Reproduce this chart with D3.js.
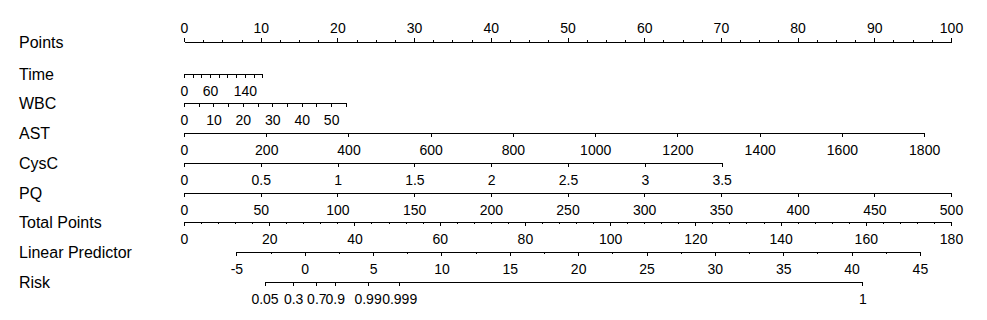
<!DOCTYPE html>
<html>
<head>
<meta charset="utf-8">
<script src="https://cdn.jsdelivr.net/npm/d3@7/dist/d3.min.js"></script>
<style>
body { margin: 0; background: #fff; }
svg { display: block; font-family: "Liberation Sans", Arial, sans-serif; }
.axis path, .axis line { stroke: #000; stroke-width: 1px; shape-rendering: crispEdges; }
.axis text { font-size: 14px; fill: #000; font-family: "Liberation Sans", Arial, sans-serif; }
.name { font-size: 16px; fill: #000; }
</style>
</head>
<body>
<script>
var width = 987, height = 320;

var rowNames = ["Points", "Time", "WBC", "AST", "CysC", "PQ", "Total Points", "Linear Predictor", "Risk"];

// points axis
var pointsMajor = [0, 10, 20, 30, 40, 50, 60, 70, 80, 90, 100];
var pointsMinorStep = 2.5;

// predictors: tick values, labelled values, points reached at the ends
var timeTicks = [0, 20, 40, 60, 80, 100, 120, 140, 160, 180];
var timeLabels = [0, 60, 140];
var timePoints = [0, 10.2];

var wbcTicks = [0, 5, 10, 15, 20, 25, 30, 35, 40, 45, 50, 55];
var wbcLabels = [0, 10, 20, 30, 40, 50];
var wbcPoints = [0, 21.1];

var astTicks = [0, 200, 400, 600, 800, 1000, 1200, 1400, 1600, 1800];
var astLabels = astTicks;
var astPoints = [0, 96.5];

var cysTicks = [0, 0.5, 1, 1.5, 2, 2.5, 3, 3.5];
var cysLabels = cysTicks;
var cysPoints = [0, 70.1];

var pqTicks = [0, 50, 100, 150, 200, 250, 300, 350, 400, 450, 500];
var pqLabels = pqTicks;
var pqPoints = [0, 100];

// total points
var totalMajor = [0, 20, 40, 60, 80, 100, 120, 140, 160, 180];
var totalMinorStep = 4;

// linear predictor, and total points at its ends
var lpMajor = [-5, 0, 5, 10, 15, 20, 25, 30, 35, 40, 45];
var lpMinorStep = 2.5;
var lpTotal = [12.3, 172.7];

// risk
var riskProbs = [0.05, 0.3, 0.7, 0.9, 0.99, 0.999];
var riskLabels = ["0.05", "0.3", "0.7", "0.9", "0.99", "0.999", "1"];
var riskTopLP = 40.8;

var x0 = 184, x1 = 951;
var xPoints = d3.scaleLinear().domain([0, 100]).range([x0, x1]);
var xTotal = d3.scaleLinear().domain([0, 180]).range([x0, x1]);

function rowY(i) {
	var y = i === 0 ? 41 : 72.5 + (i - 1) * 29.75;
	return Math.round(y) + 0.5;
}

function plain(d) { return String(d); }

var svg = d3.select("body").append("svg")
	.attr("width", width)
	.attr("height", height);

svg.selectAll("text.name")
	.data(rowNames)
	.enter().append("text")
	.attr("class", "name")
	.attr("x", 19)
	.attr("y", function (d, i) { return rowY(i) + 6; })
	.text(function (d) { return d; });

function minorTicks(domain, step) {
	return d3.range(domain[0], domain[1] + step / 2, step);
}

// Points
var gPts = svg.append("g")
	.attr("class", "axis")
	.attr("transform", "translate(0," + rowY(0) + ")");
gPts.call(d3.axisTop(xPoints)
	.tickValues(minorTicks([0, 100], pointsMinorStep))
	.tickSize(2).tickSizeOuter(0).tickFormat(""));
gPts.append("g").call(d3.axisTop(xPoints)
	.tickValues(pointsMajor)
	.tickSize(4).tickSizeOuter(0).tickPadding(5).tickFormat(plain));
gPts.selectAll("text").attr("font-size", null).attr("font-family", null);

// predictors
var predictors = [
	{ ticks: timeTicks, labels: timeLabels, pts: timePoints },
	{ ticks: wbcTicks, labels: wbcLabels, pts: wbcPoints },
	{ ticks: astTicks, labels: astLabels, pts: astPoints },
	{ ticks: cysTicks, labels: cysLabels, pts: cysPoints },
	{ ticks: pqTicks, labels: pqLabels, pts: pqPoints }
];

predictors.forEach(function (p, i) {
	var ext = d3.extent(p.ticks);
	var sc = d3.scaleLinear().domain(ext).range([xPoints(p.pts[0]), xPoints(p.pts[1])]);
	var g = svg.append("g")
		.attr("class", "axis")
		.attr("transform", "translate(0," + rowY(i + 1) + ")");
	g.call(d3.axisBottom(sc)
		.tickValues(p.ticks)
		.tickSize(4).tickSizeOuter(0).tickPadding(9)
		.tickFormat(function (d) { return p.labels.indexOf(d) >= 0 ? String(d) : ""; }));
	g.selectAll("text").attr("font-size", null).attr("font-family", null);
});

// Total Points
var gTot = svg.append("g")
	.attr("class", "axis")
	.attr("transform", "translate(0," + rowY(6) + ")");
gTot.call(d3.axisBottom(xTotal)
	.tickValues(minorTicks([0, 180], totalMinorStep))
	.tickSize(2).tickSizeOuter(0).tickFormat(""));
gTot.append("g").call(d3.axisBottom(xTotal)
	.tickValues(totalMajor)
	.tickSize(4).tickSizeOuter(0).tickPadding(9).tickFormat(plain));
gTot.selectAll("text").attr("font-size", null).attr("font-family", null);

// Linear Predictor
var xLP = d3.scaleLinear()
	.domain(d3.extent(lpMajor))
	.range([xTotal(lpTotal[0]), xTotal(lpTotal[1])]);
var gLP = svg.append("g")
	.attr("class", "axis")
	.attr("transform", "translate(0," + rowY(7) + ")");
gLP.call(d3.axisBottom(xLP)
	.tickValues(minorTicks(d3.extent(lpMajor), lpMinorStep))
	.tickSize(2).tickSizeOuter(0).tickFormat(""));
gLP.append("g").call(d3.axisBottom(xLP)
	.tickValues(lpMajor)
	.tickSize(4).tickSizeOuter(0).tickPadding(9).tickFormat(plain));
gLP.selectAll("text").attr("font-size", null).attr("font-family", null);

// Risk
var riskLP = riskProbs.map(function (p) { return Math.log(p / (1 - p)); }).concat([riskTopLP]);
var xRisk = d3.scaleLinear()
	.domain([riskLP[0], riskLP[riskLP.length - 1]])
	.range([xLP(riskLP[0]), xLP(riskLP[riskLP.length - 1])]);
var gRisk = svg.append("g")
	.attr("class", "axis")
	.attr("transform", "translate(0," + rowY(8) + ")");
gRisk.call(d3.axisBottom(xRisk)
	.tickValues(riskLP)
	.tickSize(4).tickSizeOuter(0).tickPadding(9)
	.tickFormat(function (d, i) { return riskLabels[i]; }));
gRisk.selectAll("text").attr("font-size", null).attr("font-family", null);
</script>
</body>
</html>
